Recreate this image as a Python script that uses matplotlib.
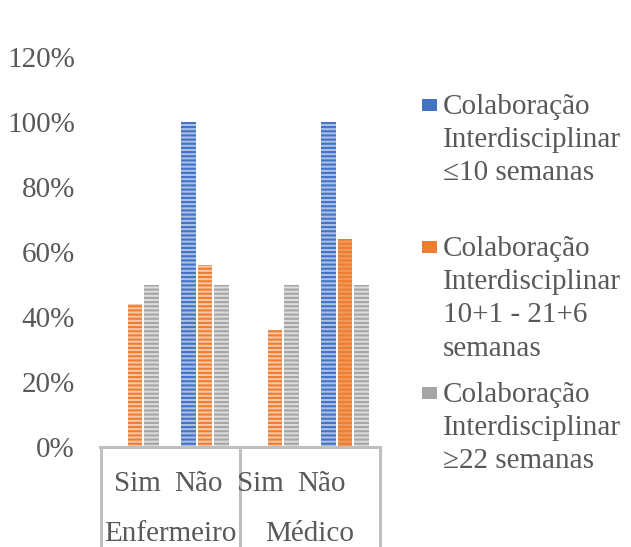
import matplotlib
matplotlib.use("Agg")
import matplotlib.pyplot as plt
from matplotlib.patches import Rectangle
from matplotlib.ticker import FuncFormatter

# Data
categories = ["Sim", "Não", "Sim", "Não"]
groups = ["Enfermeiro", "Médico"]
series_names = [
    "Colaboração\nInterdisciplinar\n≤10 semanas",
    "Colaboração\nInterdisciplinar\n10+1 - 21+6\nsemanas",
    "Colaboração\nInterdisciplinar\n≥22 semanas",
]
ate_10 = [0, 100, 0, 100]
de_10_a_21 = [44, 56, 36, 64]
acima_22 = [50, 50, 50, 50]
yticks = [0, 20, 40, 60, 80, 100, 120]

plt.rcParams["font.family"] = ["Liberation Serif", "DejaVu Serif"]
TXT = "#595959"
FS = 21

main_colors = ["#4472C4", "#ED7D31", "#A5A5A5"]
light_colors = ["#A9C0E8", "#F7C6A4", "#DCDCDC"]

fig = plt.figure(figsize=(6.31, 5.47), dpi=100)
ax = fig.add_axes([100 / 631, 100 / 547, 280 / 631, 390 / 547])

plt.rcParams["hatch.linewidth"] = 1.5
width = 0.21
step = 0.235
for i, vals in enumerate([ate_10, de_10_a_21, acima_22]):
    xs = [k + (i - 1) * step for k in range(len(categories))]
    bars = ax.bar(xs, vals, width=width, color=light_colors[i],
                  edgecolor=main_colors[i], linewidth=0, hatch="----")
    if i == 1:
        # the last orange bar is rendered in a stronger tone
        bars[3].set_facecolor("#F29A5C")

ax.set_xlim(-0.5, len(categories) - 0.5)
ax.set_ylim(0, 120)
ax.set_yticks(yticks)
ax.yaxis.set_major_formatter(FuncFormatter(lambda v, p: f"{v:.0f}%"))
ax.tick_params(axis="y", length=0, pad=18, labelsize=FS, labelcolor=TXT)
ax.set_xticks([])

for s in ["top", "right", "left"]:
    ax.spines[s].set_visible(False)
ax.spines["bottom"].set_color("#BFBFBF")
ax.spines["bottom"].set_linewidth(2.2)

# group separators below the axis
axis_tr = ax.get_xaxis_transform()
for xb in [-0.48, 1.5, 3.5]:
    ax.plot([xb, xb], [0, -100 / 390], transform=axis_tr,
            color="#BFBFBF", lw=2.2, clip_on=False, solid_capstyle="butt")

# category and group labels
label_shift = [0.03, -0.1, -0.21, -0.33]
for k, (lab, sh) in enumerate(zip(categories, label_shift)):
    ax.text(k + sh, -37 / 390, lab, transform=axis_tr, ha="center",
            va="center", fontsize=FS, color=TXT)
for g, name in enumerate(groups):
    ax.text(2 * g + 0.5, -87 / 390, name, transform=axis_tr, ha="center",
            va="center", fontsize=FS, color=TXT)

# legend
first_line_y = [105, 247, 393]
for name, c, yl in zip(series_names, main_colors, first_line_y):
    fig.patches.append(Rectangle((422 / 631, 1 - (yl + 6) / 547), 15 / 631,
                                 12 / 547, transform=fig.transFigure,
                                 facecolor=c, edgecolor="none"))
    fig.text(443 / 631, 1 - (yl - 11) / 547, name, ha="left", va="top",
             fontsize=FS, color=TXT, linespacing=1.36)

fig.savefig("out.png", dpi=100)
